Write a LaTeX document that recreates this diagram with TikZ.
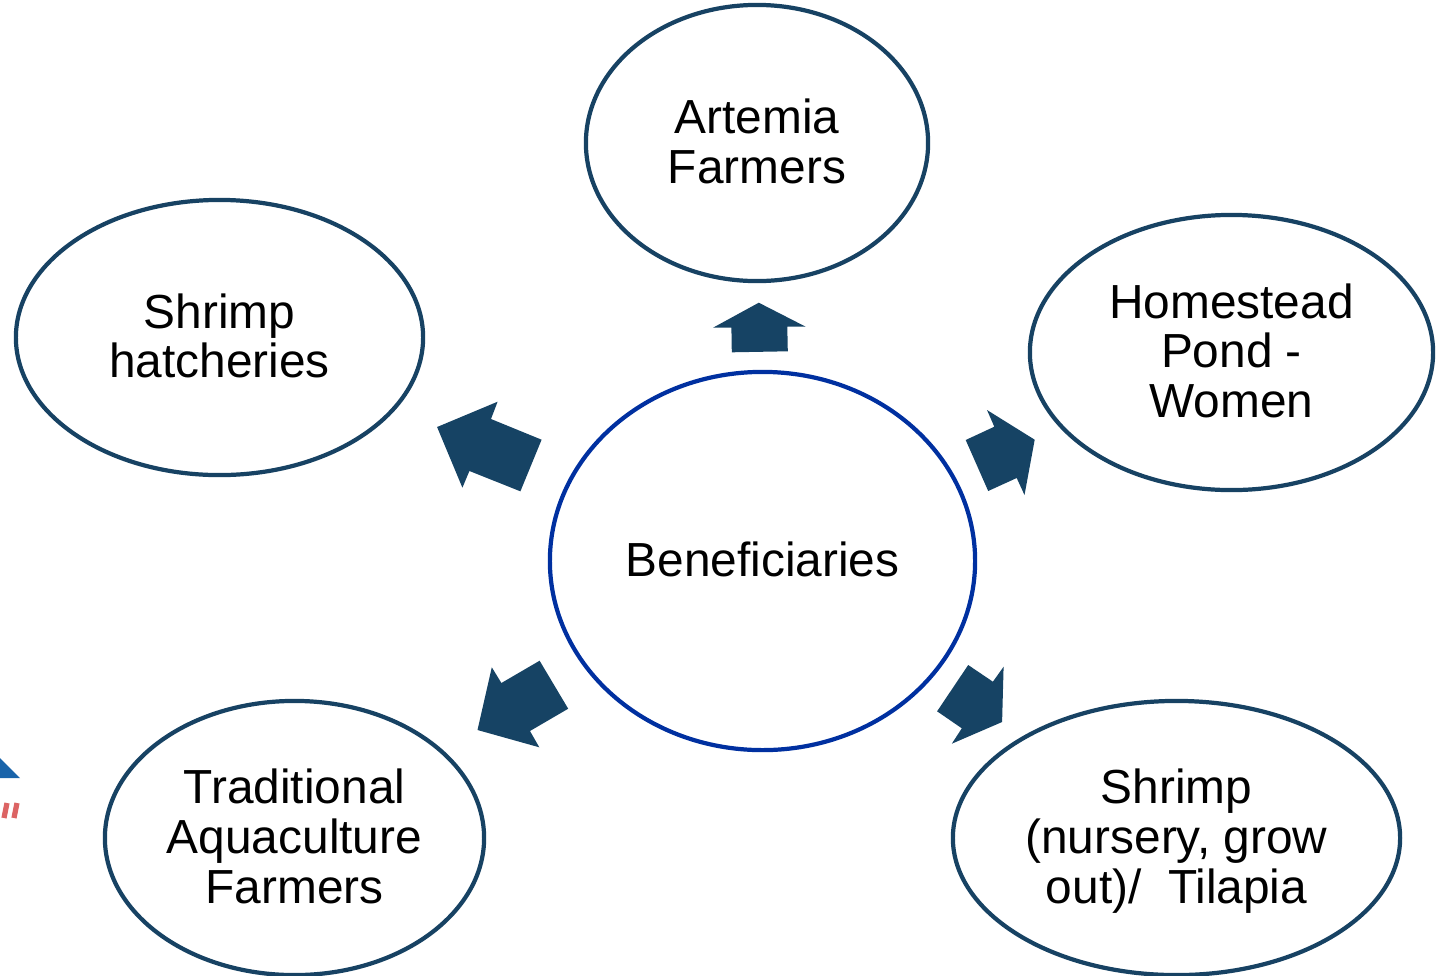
\documentclass[tikz,border=0pt]{standalone}
\usepackage{fontspec}
\setmainfont{Liberation Sans}
\usetikzlibrary{shapes.geometric}
\definecolor{ovalblue}{RGB}{23,66,99}
\definecolor{arrowblue}{RGB}{22,67,100}
\definecolor{hubblue}{RGB}{0,48,160}
\definecolor{logoblue}{RGB}{25,100,170}
\definecolor{logored}{RGB}{220,100,100}
% fixed top and bottom of the text block, so that all ovals centre alike
\newcommand{\topline}{\rule{0pt}{12pt}}
\newcommand{\botline}{\rule[-3.2pt]{0pt}{3.2pt}}
\tikzset{
  oval/.style={ellipse, draw=ovalblue, line width=1.2pt, inner sep=0pt, align=center,
    font=\fontsize{13.6}{14.1}\selectfont},
  hub/.style={oval, draw=hubblue},
  blockarrow/.style={fill=arrowblue}
}
\begin{document}
\begin{tikzpicture}[x=0.01cm, y=-0.01cm]
  \useasboundingbox (0,0) rectangle (1448,975);

  % logo scrap at the left edge
  \fill[logoblue] (0,758) -- (20,778) -- (0,778) -- cycle;
  \draw[logored, line width=1.5pt] (4,818) -- (7,803);
  \draw[logored, line width=1.5pt] (14,818) -- (17,803);

  \node[hub, minimum width=4.25cm, minimum height=3.78cm] (benef) at (762.5,561) {\topline Beneficiaries\botline};
  \node[oval, minimum width=3.42cm, minimum height=2.76cm] (artemia) at (757,143) {\topline Artemia\\Farmers\botline};
  \node[oval, minimum width=4.07cm, minimum height=2.75cm] (hatch) at (219.5,337.5) {\topline Shrimp\\hatcheries\botline};
  \node[oval, minimum width=4.03cm, minimum height=2.75cm] (pond) at (1231.5,352.5) {\topline Homestead\\Pond -\\Women\botline};
  \node[oval, minimum width=3.79cm, minimum height=2.74cm] (trad) at (294.5,838) {\topline Traditional\\Aquaculture\\Farmers\botline};
  \node[oval, minimum width=4.47cm, minimum height=2.74cm] (nursery) at (1176.5,838) {\topline Shrimp\\(nursery, grow\\out)/\ \ Tilapia\botline};

  % block arrows
  \fill[blockarrow] (758.8,302.7) -- (805.7,326.7) -- (787.3,326.7) -- (787.8,351.3)
    -- (731.8,352.3) -- (731.4,327.7) -- (713,327.7) -- cycle;
  \fill[blockarrow] (437.1,427) -- (497.6,401.7) -- (491,419) -- (541.6,439.7)
    -- (520.4,491.3) -- (469.4,471) -- (462.4,487.7) -- cycle;
  \fill[blockarrow] (1034.7,439.7) -- (987,410) -- (994.3,426.7) -- (965.7,440)
    -- (988.2,491) -- (1016.7,478) -- (1024.5,495) -- cycle;
  \fill[blockarrow] (477.5,730) -- (491.8,667.3) -- (501.4,683) -- (539.6,660.7)
    -- (568.2,708.7) -- (530,731) -- (539.3,747.3) -- cycle;
  \fill[blockarrow] (1002.1,722) -- (1003.6,666.7) -- (992.9,681.7) -- (968.2,665)
    -- (937.1,711.3) -- (961.8,728.3) -- (951.8,743.7) -- cycle;
\end{tikzpicture}
\end{document}
